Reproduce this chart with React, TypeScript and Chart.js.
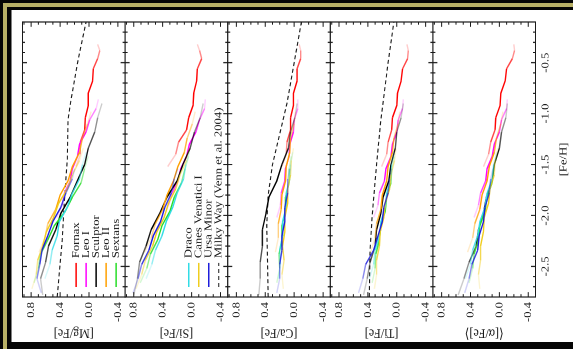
import React, { useEffect, useRef } from 'react';
import { Chart, registerables } from 'chart.js';

Chart.register(...registerables);

// ---------- axes ----------
const FEH_TICKS = [-2.5, -2.0, -1.5, -1.0, -0.5];
const XFE_TICKS = [0.8, 0.4, 0.0, -0.4];
const FEH_MIN = -2.8;
const FEH_MAX = -0.1;
const XFE_MIN = -0.5;
const XFE_MAX = 0.92;
const PANEL_IDS = ['mg', 'si', 'ca', 'ti', 'alpha'];
const PANEL_TITLES = ['[Mg/Fe]', '[Si/Fe]', '[Ca/Fe]', '[Ti/Fe]', '⟨[α/Fe]⟩'];

// ---------- running averages ----------
const fornaxFeH = [-1.52, -1.4, -1.28, -1.16, -1.04, -0.92, -0.8, -0.68, -0.56, -0.46, -0.38, -0.32];
const fornaxMg = [0.18, 0.12, 0.12, 0.06, 0.05, 0.01, 0.01, -0.05, -0.06, -0.12, -0.15, -0.12];
const fornaxSi = [0.33, 0.22, 0.18, 0.07, 0.04, -0.02, -0.03, -0.07, -0.08, -0.14, -0.11, -0.08];
const fornaxCa = [0.17, 0.11, 0.1, 0.05, 0.05, 0.01, 0.01, -0.04, -0.04, -0.09, -0.09, -0.07];
const fornaxTi = [0.21, 0.14, 0.12, 0.07, 0.06, 0.0, -0.01, -0.06, -0.08, -0.15, -0.16, -0.14];
const fornaxAlpha = [0.22, 0.15, 0.12, 0.06, 0.05, -0.01, -0.02, -0.08, -0.1, -0.18, -0.21, -0.2];

const leoIFeH = [-2.02, -1.9, -1.78, -1.66, -1.54, -1.42, -1.3, -1.18, -1.06, -0.95, -0.86];
const leoIMg = [0.45, 0.37, 0.34, 0.26, 0.23, 0.16, 0.13, 0.04, -0.01, -0.1, -0.13];
const leoISi = [0.39, 0.32, 0.27, 0.19, 0.15, 0.07, 0.03, -0.06, -0.11, -0.18, -0.19];
const leoICa = [0.24, 0.19, 0.18, 0.13, 0.12, 0.07, 0.06, 0.01, 0.0, -0.05, -0.05];
const leoITi = [0.32, 0.26, 0.24, 0.17, 0.15, 0.08, 0.06, 0.0, -0.02, -0.08, -0.09];
const leoIAlpha = [0.35, 0.29, 0.26, 0.19, 0.17, 0.1, 0.07, 0.0, -0.03, -0.1, -0.11];

const sculptorFeH = [-2.78, -2.62, -2.46, -2.3, -2.14, -1.98, -1.82, -1.66, -1.5, -1.34, -1.18, -1.04, -0.9];
const sculptorMg = [0.64, 0.67, 0.6, 0.56, 0.46, 0.39, 0.26, 0.16, 0.06, 0.01, -0.08, -0.12, -0.18];
const sculptorSi = [0.8, 0.75, 0.72, 0.63, 0.56, 0.44, 0.34, 0.2, 0.12, 0.02, -0.04, -0.12, -0.16];
const sculptorCa = [0.49, 0.47, 0.47, 0.44, 0.44, 0.39, 0.35, 0.24, 0.17, 0.08, 0.05, -0.01, -0.04];
const sculptorTi = [0.46, 0.41, 0.37, 0.3, 0.28, 0.22, 0.19, 0.11, 0.08, 0.02, 0.0, -0.06, -0.09];
const sculptorAlpha = [0.57, 0.49, 0.42, 0.32, 0.29, 0.22, 0.18, 0.1, 0.07, 0.0, -0.03, -0.09, -0.11];

const leoIIFeH = [-2.36, -2.22, -2.08, -1.94, -1.8, -1.66, -1.52, -1.38, -1.24, -1.1, -0.98];
const leoIIMg = [0.69, 0.61, 0.57, 0.46, 0.4, 0.29, 0.23, 0.13, 0.09, 0.02, -0.03];
const leoIISi = [0.65, 0.56, 0.5, 0.4, 0.34, 0.25, 0.19, 0.1, 0.06, -0.01, -0.05];
const leoIICa = [0.26, 0.22, 0.22, 0.18, 0.17, 0.12, 0.11, 0.06, 0.05, 0.0, -0.02];
const leoIITi = [0.36, 0.3, 0.28, 0.22, 0.2, 0.14, 0.12, 0.06, 0.04, -0.02, -0.04];
const leoIIAlpha = [0.44, 0.37, 0.34, 0.27, 0.24, 0.17, 0.14, 0.07, 0.04, -0.02, -0.05];

const sextansFeH = [-2.66, -2.52, -2.38, -2.24, -2.1, -1.96, -1.82, -1.68, -1.54, -1.42];
const sextansMg = [0.76, 0.7, 0.67, 0.57, 0.48, 0.33, 0.23, 0.11, 0.06, 0.01];
const sextansSi = [0.71, 0.62, 0.57, 0.47, 0.41, 0.3, 0.24, 0.14, 0.09, 0.04];
const sextansCa = [0.24, 0.2, 0.21, 0.17, 0.17, 0.12, 0.12, 0.07, 0.07, 0.04];
const sextansTi = [0.34, 0.3, 0.29, 0.24, 0.22, 0.16, 0.14, 0.08, 0.07, 0.03];
const sextansAlpha = [0.42, 0.37, 0.35, 0.29, 0.27, 0.2, 0.17, 0.1, 0.08, 0.04];

const dracoFeH = [-2.62, -2.48, -2.34, -2.2, -2.06, -1.92, -1.78, -1.64, -1.5, -1.38];
const dracoMg = [0.61, 0.54, 0.51, 0.44, 0.41, 0.3, 0.23, 0.13, 0.09, 0.04];
const dracoSi = [0.63, 0.55, 0.5, 0.41, 0.35, 0.26, 0.2, 0.11, 0.08, 0.03];
const dracoCa = [0.22, 0.19, 0.2, 0.16, 0.16, 0.11, 0.11, 0.06, 0.05, 0.02];
const dracoTi = [0.38, 0.32, 0.3, 0.24, 0.22, 0.16, 0.14, 0.08, 0.07, 0.03];
const dracoAlpha = [0.47, 0.4, 0.37, 0.3, 0.27, 0.2, 0.17, 0.1, 0.08, 0.04];

const cvnIFeH = [-2.72, -2.58, -2.44, -2.3, -2.16, -2.02, -1.88, -1.74, -1.6, -1.46, -1.34];
const cvnIMg = [0.79, 0.73, 0.71, 0.64, 0.59, 0.49, 0.42, 0.3, 0.23, 0.13, 0.08];
const cvnISi = [0.77, 0.69, 0.64, 0.54, 0.48, 0.38, 0.32, 0.22, 0.16, 0.07, 0.03];
const cvnICa = [0.15, 0.17, 0.14, 0.16, 0.13, 0.13, 0.09, 0.09, 0.05, 0.04, 0.01];
const cvnITi = [0.31, 0.28, 0.28, 0.24, 0.23, 0.18, 0.16, 0.1, 0.08, 0.03, 0.01];
const cvnIAlpha = [0.27, 0.29, 0.26, 0.26, 0.22, 0.21, 0.15, 0.13, 0.07, 0.06, 0.02];

const umiFeH = [-2.76, -2.62, -2.48, -2.34, -2.2, -2.06, -1.92, -1.78, -1.64, -1.54];
const umiMg = [0.66, 0.72, 0.68, 0.65, 0.57, 0.5, 0.39, 0.32, 0.23, 0.2];
const umiSi = [0.81, 0.74, 0.69, 0.59, 0.53, 0.43, 0.37, 0.28, 0.24, 0.19];
const umiCa = [0.24, 0.2, 0.2, 0.17, 0.17, 0.13, 0.13, 0.09, 0.09, 0.06];
const umiTi = [0.53, 0.47, 0.43, 0.32, 0.26, 0.2, 0.18, 0.12, 0.1, 0.07];
const umiAlpha = [0.48, 0.42, 0.38, 0.3, 0.28, 0.22, 0.2, 0.14, 0.12, 0.09];

// Milky Way (Venn et al. 2004)
const mwMgFeH = [-2.8, -2.56, -2.24, -1.85, -1.45, -1.06, -0.87, -0.47, -0.1];
const mwMg = [0.44, 0.41, 0.37, 0.34, 0.3, 0.29, 0.25, 0.15, 0.04];
const mwCaFeH = [-2.8, -2.4, -2.1, -1.8, -1.5, -1.2, -0.9, -0.5, -0.1];
const mwCa = [0.36, 0.37, 0.38, 0.36, 0.3, 0.2, 0.1, 0.0, -0.1];
const mwTiFeH = [-2.8, -2.34, -2.0, -1.5, -1.06, -0.5, -0.1];
const mwTi = [0.38, 0.37, 0.34, 0.28, 0.22, 0.12, 0.04];

// ---------- styles ----------
const COLORS: Record<string, number[]> = {
  Fornax: [255, 0, 0],
  'Leo I': [255, 0, 255],
  Sculptor: [0, 0, 0],
  'Leo II': [255, 160, 0],
  Sextans: [40, 220, 40],
  Draco: [50, 220, 230],
  'Canes Venatici I': [240, 205, 30],
  'Ursa Minor': [30, 30, 220],
};
const MW_LABEL = 'Milky Way (Venn et al. 2004)';
const LEGEND_A = ['Fornax', 'Leo I', 'Sculptor', 'Leo II', 'Sextans'];
const LEGEND_B = ['Draco', 'Canes Venatici I', 'Ursa Minor', MW_LABEL];

const W0 = 289;
const H0 = 562;
const STRETCH = 332 / 289;
const SERIF = '"Liberation Serif", "Times New Roman", "DejaVu Serif", serif';
const GOLD = '#b8b066';
const INK = '#1a1a1a';

const GALAXIES = [
  { name: 'Ursa Minor', feh: umiFeH, vals: [umiMg, umiSi, umiCa, umiTi, umiAlpha] },
  { name: 'Canes Venatici I', feh: cvnIFeH, vals: [cvnIMg, cvnISi, cvnICa, cvnITi, cvnIAlpha] },
  { name: 'Draco', feh: dracoFeH, vals: [dracoMg, dracoSi, dracoCa, dracoTi, dracoAlpha] },
  { name: 'Sextans', feh: sextansFeH, vals: [sextansMg, sextansSi, sextansCa, sextansTi, sextansAlpha] },
  { name: 'Leo II', feh: leoIIFeH, vals: [leoIIMg, leoIISi, leoIICa, leoIITi, leoIIAlpha] },
  { name: 'Sculptor', feh: sculptorFeH, vals: [sculptorMg, sculptorSi, sculptorCa, sculptorTi, sculptorAlpha] },
  { name: 'Leo I', feh: leoIFeH, vals: [leoIMg, leoISi, leoICa, leoITi, leoIAlpha] },
  { name: 'Fornax', feh: fornaxFeH, vals: [fornaxMg, fornaxSi, fornaxCa, fornaxTi, fornaxAlpha] },
];
const MILKY_WAY = [
  { panel: 'mg', feh: mwMgFeH, vals: mwMg },
  { panel: 'ca', feh: mwCaFeH, vals: mwCa },
  { panel: 'ti', feh: mwTiFeH, vals: mwTi },
];

function fade(i: number, n: number) {
  const segs = n - 1;
  const half = (segs - 1) / 2;
  const d = Math.min(i, segs - 1 - i);
  const t = half > 0 ? d / half : 1;
  return Math.min(1, 0.2 + 1.3 * t);
}
const rgba = (c: number[], a: number) => `rgba(${c[0]},${c[1]},${c[2]},${a})`;

const framePlugin = {
  id: 'panelFrames',
  afterDatasetsDraw(chart: any) {
    const ctx = chart.ctx;
    const xs = chart.scales.x;
    const area = chart.chartArea;
    ctx.save();
    ctx.strokeStyle = INK;
    ctx.lineWidth = 1;
    for (const id of PANEL_IDS) {
      const ys = chart.scales[id];
      const top = ys.top;
      const bottom = ys.bottom;
      const left = area.left;
      const right = area.right;
      ctx.strokeRect(left, top, right - left, bottom - top);
      ctx.beginPath();
      for (let k = -5; k <= 9; k++) {
        const y = ys.getPixelForValue(k / 10);
        if (y < top + 0.5 || y > bottom - 0.5) continue;
        const len = k % 4 === 0 ? 4.2 : 2.4;
        ctx.moveTo(left, y);
        ctx.lineTo(left + len, y);
        ctx.moveTo(right, y);
        ctx.lineTo(right - len, y);
      }
      for (let k = -27; k <= -2; k++) {
        const x = xs.getPixelForValue(k / 10);
        const len = k % 5 === 0 ? 4.5 : 2.5;
        ctx.moveTo(x, top);
        ctx.lineTo(x, top + len);
        ctx.moveTo(x, bottom);
        ctx.lineTo(x, bottom - len);
      }
      ctx.stroke();
    }
    ctx.restore();
  },
};

function drawLegend(chart: any, panel: string, names: string[]) {
  const ctx = chart.ctx;
  const ys = chart.scales[panel];
  ctx.save();
  ctx.font = `11px ${SERIF}`;
  ctx.textBaseline = 'middle';
  ctx.textAlign = 'left';
  names.forEach((name, i) => {
    const y = ys.bottom - 9 - 10 * (names.length - 1 - i);
    ctx.beginPath();
    if (name === MW_LABEL) {
      ctx.strokeStyle = INK;
      ctx.lineWidth = 1;
      ctx.setLineDash([3.5, 2.5]);
    } else {
      ctx.strokeStyle = rgba(COLORS[name], 1);
      ctx.lineWidth = 1.5;
      ctx.setLineDash([]);
    }
    ctx.moveTo(48, y);
    ctx.lineTo(69, y);
    ctx.stroke();
    ctx.fillStyle = INK;
    ctx.fillText(name, 73, y);
  });
  ctx.restore();
}

const legendPlugin = {
  id: 'panelLegends',
  afterDraw(chart: any) {
    drawLegend(chart, 'mg', LEGEND_A);
    drawLegend(chart, 'si', LEGEND_B);
  },
};

export default function App() {
  const ref = useRef<HTMLCanvasElement>(null);

  useEffect(() => {
    const canvas = ref.current;
    if (!canvas) return;
    const datasets: any[] = [];
    GALAXIES.forEach((g) => {
      const col = COLORS[g.name];
      PANEL_IDS.forEach((pid, p) => {
        const vals = g.vals[p];
        const n = vals.length;
        datasets.push({
          label: g.name,
          data: g.feh.map((x, i) => ({ x, y: vals[i] })),
          yAxisID: pid,
          xAxisID: 'x',
          borderColor: rgba(col, 1),
          borderWidth: 1.4,
          pointRadius: 0,
          fill: false,
          tension: 0,
          segment: {
            borderColor: (c: any) => rgba(col, fade(c.p0DataIndex, n)),
          },
        });
      });
    });
    MILKY_WAY.forEach((m) => {
      datasets.push({
        label: MW_LABEL,
        data: m.feh.map((x, i) => ({ x, y: m.vals[i] })),
        yAxisID: m.panel,
        xAxisID: 'x',
        borderColor: INK,
        borderWidth: 1.1,
        borderDash: [3.5, 2.5],
        pointRadius: 0,
        fill: false,
        tension: 0,
      });
    });

    const tickFont = { family: SERIF, size: 11 };
    const scales: any = {
      x: {
        type: 'linear',
        position: 'bottom',
        min: FEH_MIN,
        max: FEH_MAX,
        afterBuildTicks: (s: any) => {
          s.ticks = FEH_TICKS.map((v) => ({ value: v }));
        },
        afterFit: (s: any) => {
          s.height = 38;
        },
        grid: { display: false, drawTicks: false },
        border: { display: false },
        ticks: {
          font: tickFont,
          color: INK,
          padding: 3.4,
          maxRotation: 0,
          autoSkip: false,
          callback: (v: any) => Number(v).toFixed(1),
        },
        title: {
          display: true,
          text: '[Fe/H]',
          font: { family: SERIF, size: 11 },
          color: INK,
          padding: { top: 0, bottom: 3.4 },
        },
      },
    };
    PANEL_IDS.forEach((pid, p) => {
      scales[pid] = {
        type: 'linear',
        position: 'left',
        stack: 'panels',
        stackWeight: 1,
        weight: 10 - p,
        offset: false,
        min: XFE_MIN,
        max: XFE_MAX,
        afterBuildTicks: (s: any) => {
          s.ticks = XFE_TICKS.map((v) => ({ value: v }));
        },
        afterFit: (s: any) => {
          s.width = 39.2;
        },
        grid: { display: false, drawTicks: false },
        border: { display: false },
        ticks: {
          font: tickFont,
          color: INK,
          padding: 4.4,
          autoSkip: false,
          callback: (v: any) => Number(v).toFixed(1),
        },
        title: {
          display: true,
          text: PANEL_TITLES[p],
          font: { family: SERIF, size: 12 },
          color: INK,
          padding: { top: 0.8, bottom: 0 },
        },
      };
    });

    const chart = new Chart(canvas, {
      type: 'line',
      data: { datasets },
      options: {
        animation: false,
        responsive: false,
        devicePixelRatio: 2,
        layout: { padding: { left: 0, right: 10.4, top: 6, bottom: 0 } },
        plugins: { legend: { display: false }, tooltip: { enabled: false }, title: { display: false } },
        elements: { point: { radius: 0 } },
        scales,
      } as any,
      plugins: [framePlugin, legendPlugin],
    });
    return () => chart.destroy();
  }, []);

  const cx = 11 + 562 / 2;
  const cy = 10 + 332 / 2;
  return (
    <div
      style={{
        position: 'fixed',
        left: 0,
        top: 0,
        width: 573,
        height: 349,
        background: '#050505',
        overflow: 'hidden',
      }}
    >
      <div style={{ position: 'absolute', left: 3, top: 3, width: 570, height: 4, background: GOLD }} />
      <div style={{ position: 'absolute', left: 3, top: 3, width: 4, height: 346, background: GOLD }} />
      <canvas
        ref={ref}
        width={W0}
        height={H0}
        style={{
          position: 'absolute',
          left: cx - W0 / 2,
          top: cy - H0 / 2,
          width: W0,
          height: H0,
          background: '#ffffff',
          transform: `rotate(-90deg) scaleX(${STRETCH})`,
          transformOrigin: 'center center',
        }}
      />
    </div>
  );
}
